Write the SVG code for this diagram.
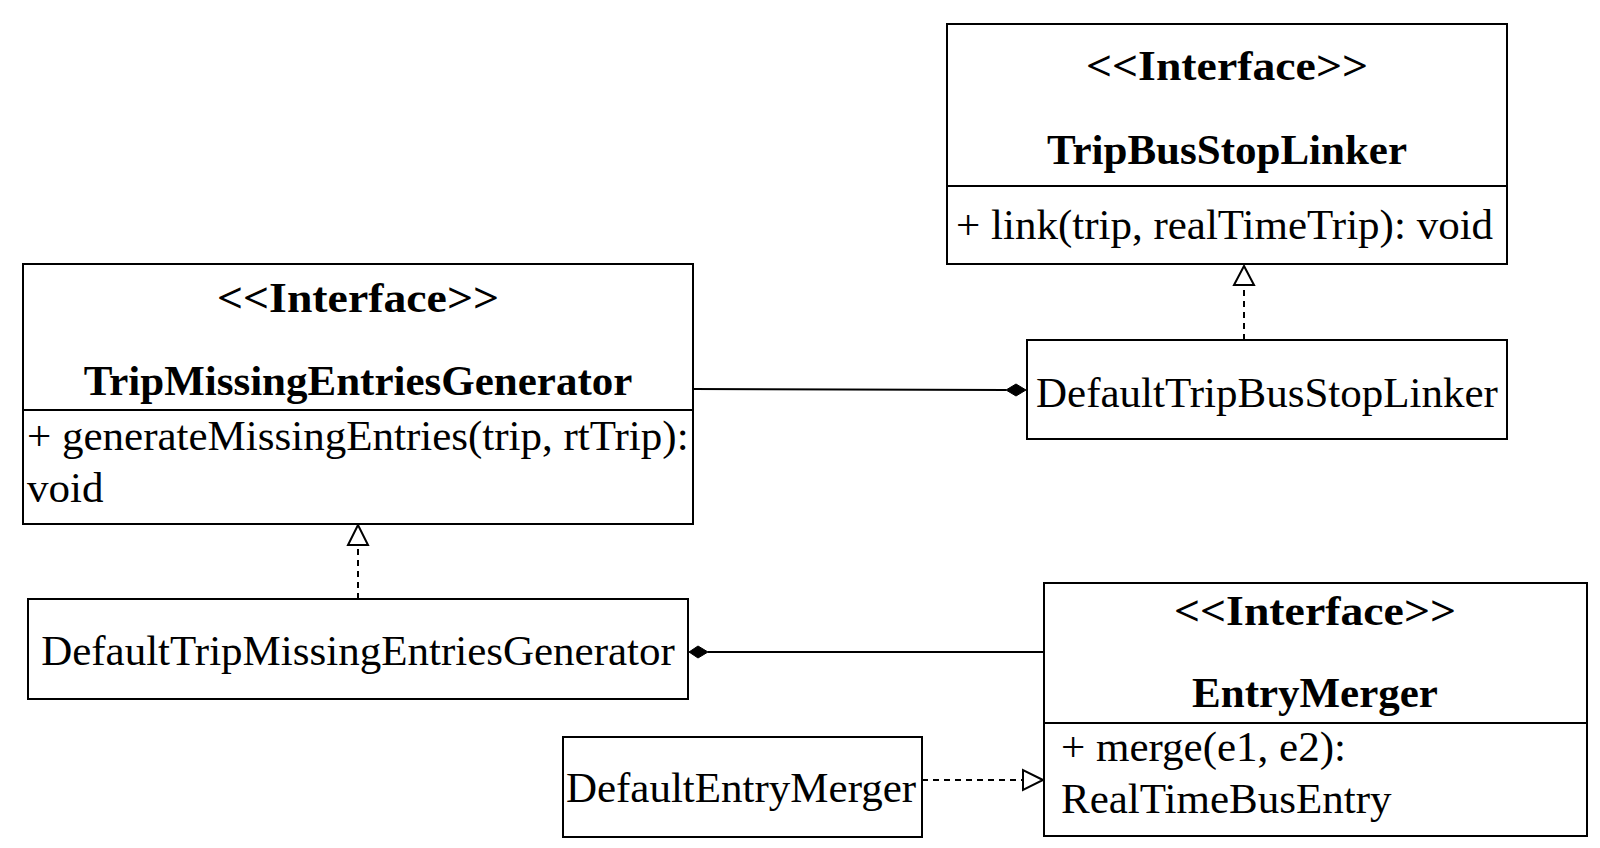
<svg xmlns="http://www.w3.org/2000/svg" width="1600" height="848" viewBox="0 0 1600 848">
<style>
.box{fill:#fff;stroke:#000;stroke-width:2}
.sep{stroke:#000;stroke-width:2}
text{font-family:"Liberation Serif","Times New Roman",serif;font-size:43px;fill:#000}
.b{font-weight:bold}
.c{text-anchor:middle}
.edge{fill:none;stroke:#000;stroke-width:2}
.dash{stroke-dasharray:6 5}
.tri{fill:#fff;stroke:#000;stroke-width:2}
.dia{fill:#000;stroke:#000;stroke-width:1}
</style>
<rect width="1600" height="848" fill="#fff"/>
<g id="connectors">
<path class="edge" d="M693,389 L1006,390"/>
<polygon class="dia" points="1006,390 1016,384 1026,390 1016,396"/>
<path class="edge" d="M708,652 L1044,652"/>
<polygon class="dia" points="689,652 698,646 708,652 698,658"/>
<path class="edge dash" d="M358,599 L358,545"/>
<polygon class="tri" points="358,525 348,545 368,545"/>
<path class="edge dash" d="M1244,340 L1244,285"/>
<polygon class="tri" points="1244,266 1234,285 1254,285"/>
<path class="edge dash" d="M922,780 L1023,780"/>
<polygon class="tri" points="1043,780 1023,770 1023,790"/>
</g>
<g id="TripBusStopLinker">
<rect class="box" x="947" y="24" width="560" height="240"/>
<line class="sep" x1="947" y1="186" x2="1507" y2="186"/>
<text class="b c" x="1227" y="80" textLength="282" lengthAdjust="spacingAndGlyphs">&lt;&lt;Interface&gt;&gt;</text>
<text class="b c" x="1227" y="164">TripBusStopLinker</text>
<text x="956" y="239">+ link(trip, realTimeTrip): void</text>
</g>
<g id="DefaultTripBusStopLinker">
<rect class="box" x="1027" y="340" width="480" height="99"/>
<text class="c" x="1267" y="407">DefaultTripBusStopLinker</text>
</g>
<g id="TripMissingEntriesGenerator">
<rect class="box" x="23" y="264" width="670" height="260"/>
<line class="sep" x1="23" y1="410" x2="693" y2="410"/>
<text class="b c" x="358" y="312" textLength="282" lengthAdjust="spacingAndGlyphs">&lt;&lt;Interface&gt;&gt;</text>
<text class="b c" x="358" y="395">TripMissingEntriesGenerator</text>
<text x="27" y="450">+ generateMissingEntries(trip, rtTrip):</text>
<text x="27" y="502">void</text>
</g>
<g id="DefaultTripMissingEntriesGenerator">
<rect class="box" x="28" y="599" width="660" height="100"/>
<text class="c" x="358" y="665">DefaultTripMissingEntriesGenerator</text>
</g>
<g id="EntryMerger">
<rect class="box" x="1044" y="583" width="543" height="253"/>
<line class="sep" x1="1044" y1="723" x2="1587" y2="723"/>
<text class="b c" x="1315" y="625" textLength="282" lengthAdjust="spacingAndGlyphs">&lt;&lt;Interface&gt;&gt;</text>
<text class="b c" x="1315" y="707">EntryMerger</text>
<text x="1061" y="761">+ merge(e1, e2):</text>
<text x="1061" y="813">RealTimeBusEntry</text>
</g>
<g id="DefaultEntryMerger">
<rect class="box" x="563" y="737" width="359" height="100"/>
<text class="c" x="741" y="802">DefaultEntryMerger</text>
</g>
</svg>
